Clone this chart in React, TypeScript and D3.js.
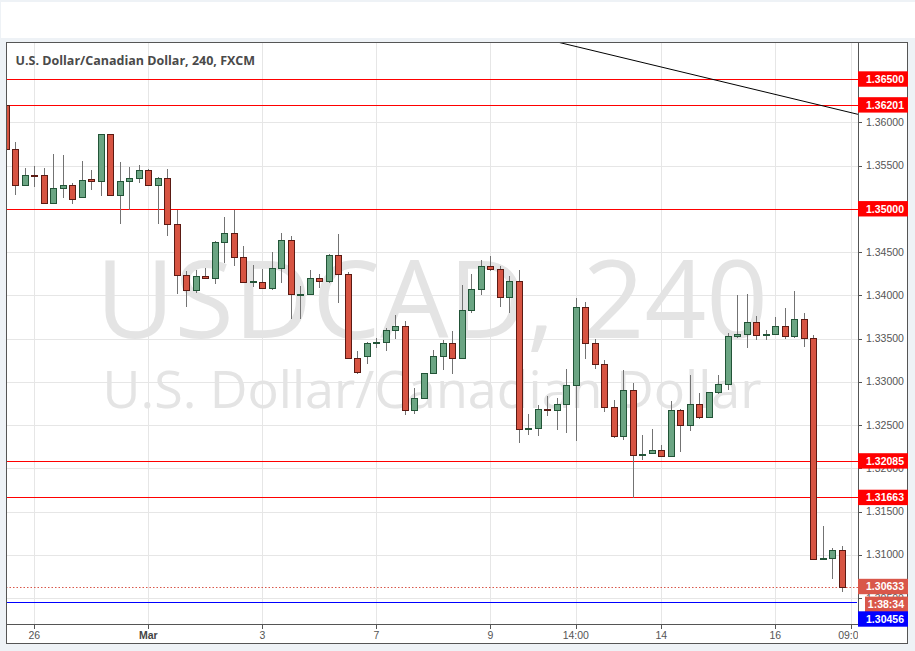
import React from "react";
import * as d3 from "d3";

const opens = [1.3620,1.3569,1.3527,1.3539,1.3539,1.3507,1.3524,1.3527,1.3514,1.3534,1.3532,1.3587,1.3516,1.3532,1.3535,1.3545,1.3527,1.3536,1.3482,1.3424,1.3406,1.3422,1.3420,1.3462,1.3472,1.3444,1.3415,1.3415,1.3408,1.3432,1.3464,1.3401,1.3402,1.3420,1.3416,1.3447,1.3425,1.3327,1.3330,1.3345,1.3346,1.3360,1.3365,1.3267,1.3281,1.3310,1.3330,1.3345,1.3327,1.3383,1.3407,1.3434,1.3430,1.3398,1.3416,1.3245,1.3246,1.3268,1.3267,1.3274,1.3296,1.3387,1.3345,1.3320,1.3271,1.3237,1.3291,1.3215,1.3218,1.3221,1.3214,1.3267,1.3250,1.3274,1.3259,1.3288,1.3297,1.3353,1.3355,1.3369,1.3354,1.3355,1.3365,1.3353,1.3373,1.3351,1.3095,1.3096,1.3106];
const highs = [1.3622,1.3577,1.3547,1.3550,1.3547,1.3563,1.3562,1.3530,1.3555,1.3545,1.3587,1.3587,1.3554,1.3548,1.3551,1.3546,1.3537,1.3546,1.3499,1.3428,1.3429,1.3431,1.3463,1.3490,1.3498,1.3457,1.3435,1.3430,1.3450,1.3472,1.3468,1.3411,1.3429,1.3425,1.3448,1.3471,1.3427,1.3336,1.3346,1.3351,1.3362,1.3377,1.3370,1.3293,1.3310,1.3337,1.3348,1.3359,1.3412,1.3425,1.3441,1.3445,1.3434,1.3422,1.3429,1.3263,1.3273,1.3284,1.3281,1.3315,1.3397,1.3392,1.3350,1.3325,1.3279,1.3314,1.3298,1.3239,1.3245,1.3227,1.3278,1.3268,1.3308,1.3287,1.3288,1.3308,1.3356,1.3400,1.3402,1.3376,1.3360,1.3375,1.3385,1.3405,1.3379,1.3354,1.3133,1.3108,1.3110];
const lows = [1.3566,1.3516,1.3527,1.3525,1.3507,1.3505,1.3512,1.3506,1.3514,1.3522,1.3515,1.3515,1.3482,1.3499,1.3530,1.3527,1.3482,1.3469,1.3402,1.3387,1.3403,1.3419,1.3413,1.3437,1.3434,1.3415,1.3410,1.3408,1.3406,1.3414,1.3372,1.3372,1.3402,1.3408,1.3414,1.3391,1.3327,1.3309,1.3321,1.3339,1.3335,1.3350,1.3262,1.3263,1.3281,1.3310,1.3314,1.3309,1.3327,1.3380,1.3400,1.3428,1.3386,1.3379,1.3229,1.3239,1.3237,1.3261,1.3244,1.3241,1.3232,1.3326,1.3315,1.3265,1.3235,1.3233,1.3166,1.3210,1.3218,1.3213,1.3213,1.3219,1.3243,1.3257,1.3259,1.3286,1.3291,1.3351,1.3339,1.3348,1.3348,1.3354,1.3350,1.3351,1.3340,1.3094,1.3094,1.3072,1.3057];
const closes = [1.3569,1.3527,1.3539,1.3538,1.3507,1.3524,1.3527,1.3511,1.3533,1.3532,1.3587,1.3516,1.3532,1.3535,1.3545,1.3527,1.3536,1.3482,1.3424,1.3406,1.3422,1.3420,1.3462,1.3472,1.3444,1.3415,1.3416,1.3408,1.3432,1.3464,1.3401,1.3402,1.3420,1.3416,1.3447,1.3425,1.3327,1.3311,1.3345,1.3346,1.3360,1.3365,1.3267,1.3281,1.3310,1.3330,1.3345,1.3327,1.3383,1.3407,1.3434,1.3430,1.3398,1.3416,1.3245,1.3246,1.3268,1.3267,1.3274,1.3296,1.3387,1.3345,1.3320,1.3271,1.3237,1.3291,1.3215,1.3217,1.3221,1.3214,1.3267,1.3250,1.3274,1.3259,1.3288,1.3297,1.3353,1.3355,1.3369,1.3354,1.3355,1.3365,1.3353,1.3373,1.3351,1.3095,1.3096,1.3106,1.30633];

const xTickIndex = [3, 15, 27, 39, 51, 60, 69, 81, 89];
const xTickLabels = ["26", "Mar", "3", "7", "9", "14:00", "14", "16", "09:00"];
const yTickValues = [1.305, 1.31, 1.315, 1.32, 1.325, 1.33, 1.335, 1.34, 1.345, 1.35, 1.355, 1.36, 1.365];
const redLevels = [1.365, 1.36201, 1.35, 1.32085, 1.31663];
const blueLevel = 1.30456;
const lastPrice = 1.30633;
const timerText = "1:38:34";
const trendIdx = [58.05, 89.7];
const trendPrice = [1.36928, 1.36092];
const title = "U.S. Dollar/Canadian Dollar, 240, FXCM";
const watermark1 = "USDCAD, 240";
const watermark2 = "U.S. Dollar/Canadian Dollar";

const W = 915, H = 651;
const PL = 6, PR = 858, PT = 42, PB = 625;
const UP_FILL = "#6ba583", UP_LINE = "#225437";
const DN_FILL = "#d75442", DN_LINE = "#5b1a13";
const WICK = "#737373";
const GRID = "#e6e6e6";
const AXIS_TXT = "#555";
const AXFONT = "'Liberation Sans', Arial, sans-serif";

export default function App() {
  const x = d3.scaleLinear().domain([0, 88]).range([5.8, 841.8]);
  const y = d3.scaleLinear().domain([1.30188, 1.36928]).range([PB, PT]);
  const fmt = d3.format(".5f");
  const idx = d3.range(opens.length);
  const py = (v: number) => Math.round(y(v)) + 0.5;

  const lastY = y(lastPrice);
  const boxes = [
    ...redLevels.map((v) => ({ v, cy: y(v), fill: "#ff0000", x0: PR, text: fmt(v) })),
    { v: lastPrice, cy: lastY, fill: "#d9574a", x0: PR, text: fmt(lastPrice) },
    { v: lastPrice, cy: lastY + 17.8, fill: "#d9574a", x0: 865, text: timerText },
    { v: blueLevel, cy: lastY + 32.5, fill: "#0000ff", x0: PR, text: fmt(blueLevel) },
  ];

  const trendLine = d3.line<number>().x((d, i) => x(trendIdx[i])).y((d, i) => y(trendPrice[i]));

  return (
    <svg width={W} height={H} style={{ position: "absolute", left: 0, top: 0, display: "block" }}>
      <defs>
        <clipPath id="plot">
          <rect x={PL + 1} y={PT + 1} width={PR - PL - 1} height={PB - PT - 1} />
        </clipPath>
        <clipPath id="xaxis">
          <rect x={PL} y={PB} width={PR - PL} height={20} />
        </clipPath>
      </defs>
      <rect x={0} y={0} width={W} height={H} fill="#eef2f6" />
      <rect x={1} y={2} width={W - 1} height={36} fill="#ffffff" />
      <rect x={6.5} y={42.5} width={901} height={601} fill="#ffffff" stroke="#555" />

      <g clipPath="url(#plot)">
        {yTickValues.map((v) => (
          <line key={"hg" + v} x1={PL} x2={PR} y1={py(v)} y2={py(v)} stroke={GRID} />
        ))}
        {xTickIndex.map((t) => (
          <line key={"vg" + t} x1={Math.round(x(t)) + 0.5} x2={Math.round(x(t)) + 0.5} y1={PT} y2={PB} stroke={GRID} />
        ))}
        <text x={(PL + PR) / 2} y={338} textAnchor="middle" fontFamily="'Open Sans', sans-serif" fontSize={108} fill="#e4e4e4">
          {watermark1}
        </text>
        <text x={(PL + PR) / 2} y={408} textAnchor="middle" fontFamily="'Open Sans', sans-serif" fontSize={52} fill="#e4e4e4">
          {watermark2}
        </text>
        {redLevels.map((v) => (
          <line key={"rl" + v} x1={PL} x2={PR} y1={py(v)} y2={py(v)} stroke="#ff0000" />
        ))}
        <line x1={PL} x2={PR - 1} y1={py(blueLevel)} y2={py(blueLevel)} stroke="#0000ff" />
        <line x1={PL} x2={PR} y1={py(lastPrice)} y2={py(lastPrice)} stroke="#d9574a" strokeDasharray="1.5,2" />
        <path d={trendLine([0, 1]) || ""} stroke="#000" fill="none" strokeWidth={1} />
        {idx.map((i) => {
          const cx = Math.round(x(i));
          const o = opens[i], c = closes[i];
          const up = c >= o;
          const top = Math.round(y(Math.max(o, c)));
          const bot = Math.round(y(Math.min(o, c)));
          const h = Math.max(1, bot - top);
          return (
            <g key={"c" + i}>
              <line x1={cx + 0.5} x2={cx + 0.5} y1={Math.round(y(highs[i]))} y2={Math.round(y(lows[i]))} stroke={WICK} />
              <rect x={cx - 2.5} y={top + 0.5} width={6} height={h} fill={up ? UP_FILL : DN_FILL} stroke={up ? UP_LINE : DN_LINE} />
            </g>
          );
        })}
      </g>

      <line x1={PR + 0.5} x2={PR + 0.5} y1={PT} y2={PB} stroke="#555" />
      <line x1={PL} x2={PR + 1} y1={PB - 0.5} y2={PB - 0.5} stroke="#555" />

      {yTickValues.map((v) => (
        <g key={"yt" + v}>
          <line x1={PR} x2={PR + 4} y1={py(v)} y2={py(v)} stroke="#555" />
          <text x={866} y={y(v)} dy="0.35em" fontFamily={AXFONT} fontSize={10.5} fill={AXIS_TXT}>
            {fmt(v)}
          </text>
        </g>
      ))}

      <g clipPath="url(#xaxis)">
        {xTickIndex.map((t, k) => (
          <g key={"xt" + t}>
            <line x1={Math.round(x(t)) + 0.5} x2={Math.round(x(t)) + 0.5} y1={PB} y2={PB + 4} stroke="#555" />
            <text
              x={x(t)}
              y={638.5}
              textAnchor="middle"
              fontFamily={AXFONT}
              fontSize={10.5}
              fontWeight={xTickLabels[k] === "Mar" ? "bold" : "normal"}
              fill={xTickLabels[k] === "Mar" ? "#444" : AXIS_TXT}
            >
              {xTickLabels[k]}
            </text>
          </g>
        ))}
      </g>

      {boxes.map((b, k) => (
        <g key={"bx" + k}>
          <rect x={b.x0} y={b.cy - 7.7} width={908 - b.x0} height={15.4} fill={b.fill} />
          <text x={904} y={b.cy} dy="0.36em" textAnchor="end" fontFamily={AXFONT} fontSize={10.5} fontWeight="bold" fill="#ffffff">
            {b.text}
          </text>
        </g>
      ))}

      <text x={15.5} y={65} fontFamily="'Open Sans', sans-serif" fontSize={12.5} fontWeight="bold" fill="#4a4a4a">
        {title}
      </text>
    </svg>
  );
}
